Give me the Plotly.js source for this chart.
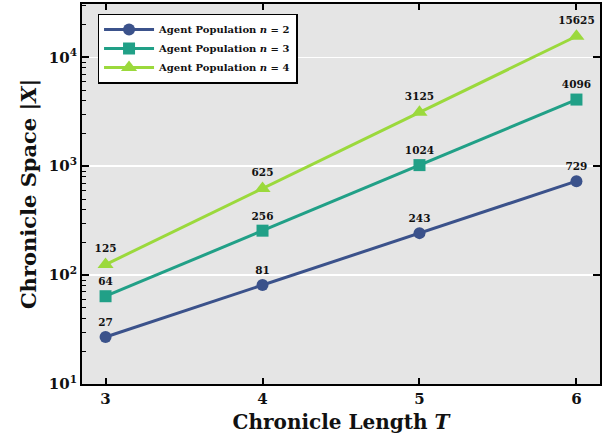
<!DOCTYPE html>
<html>
<head>
<meta charset="utf-8">
<script src="https://cdn.plot.ly/plotly-3.0.1.min.js"></script>
<style>html,body{margin:0;padding:0;background:#fff;}#chart{width:613px;height:443px;}</style>
</head>
<body>
<div id="chart"></div>
<script>
const chronicleLength = [3, 4, 5, 6];
const seriesN2 = [27, 81, 243, 729];
const seriesN3 = [64, 256, 1024, 4096];
const seriesN4 = [125, 625, 3125, 15625];
const seriesNames = ["Agent Population <i>n</i> = 2", "Agent Population <i>n</i> = 3", "Agent Population <i>n</i> = 4"];
const xTickLabels = ["3", "4", "5", "6"];

const FONT = "DejaVu Serif";
const colors = ["#3b528b", "#21a087", "#9bd93c"];
const symbols = ["circle", "square", "triangle-up"];
const sizes = [12, 12, 14];
const allSeries = [seriesN2, seriesN3, seriesN4];

const traces = allSeries.map((ys, i) => ({
  x: chronicleLength,
  y: ys,
  name: "<b>" + seriesNames[i] + "</b>",
  type: "scatter",
  mode: "lines+markers+text",
  text: ys.map(v => "<b>" + v + "</b>"),
  textposition: "top center",
  textfont: {family: FONT, size: 10.5, color: "#111"},
  line: {color: colors[i], width: 3},
  marker: {color: colors[i], symbol: symbols[i], size: sizes[i]},
  cliponaxis: false
}));
traces.push({x: [3], y: [10], yaxis: "y2", mode: "markers", marker: {opacity: 0}, showlegend: false, hoverinfo: "skip"});

const yRange = [1, 4.49];
const layout = {
  width: 613, height: 443,
  margin: {l: 82, r: 13, t: 4, b: 59},
  paper_bgcolor: "#ffffff",
  plot_bgcolor: "#e5e5e5",
  showlegend: true,
  legend: {
    x: 0.03, y: 0.975, xanchor: "left", yanchor: "top",
    bgcolor: "#ffffff", bordercolor: "#000", borderwidth: 1.5,
    font: {family: FONT, size: 10, color: "#111"},
    tracegroupgap: 0, itemwidth: 50
  },
  xaxis: {
    range: [2.85, 6.15],
    tickvals: chronicleLength, ticktext: xTickLabels.map(t => "<b>" + t + "</b>"),
    ticks: "inside", ticklen: 6, tickwidth: 2, tickcolor: "#000",
    showline: true, linewidth: 2, linecolor: "#000", mirror: "ticks",
    showgrid: false, zeroline: false,
    tickfont: {family: FONT, size: 15, color: "#111"},
    title: {text: "<b>Chronicle Length <i>T</i></b>", font: {family: FONT, size: 20, color: "#111"}, standoff: 8}
  },
  yaxis: {
    type: "log", range: yRange,
    tickvals: [10, 100, 1000, 10000],
    ticktext: ["<b>10<sup>1</sup></b>", "<b>10<sup>2</sup></b>", "<b>10<sup>3</sup></b>", "<b>10<sup>4</sup></b>"],
    ticks: "inside", ticklen: 7, tickwidth: 2, tickcolor: "#000",
    minor: {ticks: "inside", ticklen: 4, tickwidth: 1, tickcolor: "#000", showgrid: false,
      tickvals: [20,30,40,50,60,70,80,90,200,300,400,500,600,700,800,900,2000,3000,4000,5000,6000,7000,8000,9000,20000,30000]},
    showline: true, linewidth: 2, linecolor: "#000", mirror: true,
    showgrid: true, gridcolor: "#ffffff", gridwidth: 1.5, zeroline: false,
    tickfont: {family: FONT, size: 15, color: "#111"},
    title: {text: "<b>Chronicle Space |<i>X</i>|</b>", font: {family: FONT, size: 21, color: "#111"}, standoff: 6}
  },
  yaxis2: {
    type: "log", range: yRange, overlaying: "y", side: "right",
    tickvals: [10, 100, 1000, 10000], showticklabels: false,
    ticks: "inside", ticklen: 7, tickwidth: 2, tickcolor: "#000",
    showgrid: false, zeroline: false, showline: false
  }
};

Plotly.newPlot("chart", traces, layout, {displayModeBar: false, staticPlot: true});
</script>
</body>
</html>
